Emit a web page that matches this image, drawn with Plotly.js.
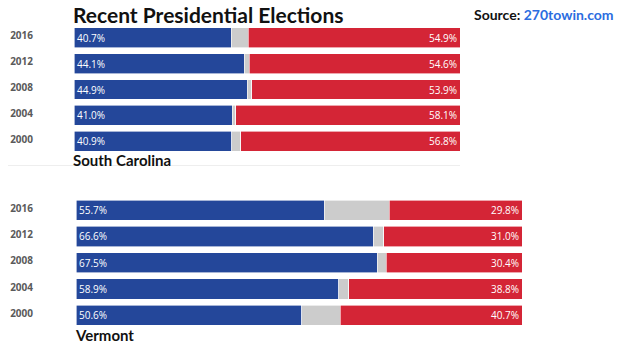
<!DOCTYPE html>
<html>
<head>
<meta charset="utf-8">
<script src="https://cdn.plot.ly/plotly-3.0.1.min.js"></script>
<style>html,body{margin:0;padding:0;background:#fff;}#chart{width:630px;height:350px;}</style>
</head>
<body>
<div id="chart"></div>
<script>
const years = ['2016', '2012', '2008', '2004', '2000'];

const scDem   = [40.7, 44.1, 44.9, 41.0, 40.9];
const scOther = [4.4, 1.3, 1.2, 0.9, 2.3];
const scRep   = [54.9, 54.6, 53.9, 58.1, 56.8];

const vtDem   = [55.7, 66.6, 67.5, 58.9, 50.6];
const vtOther = [14.5, 2.4, 2.1, 2.3, 8.7];
const vtRep   = [29.8, 31.0, 30.4, 38.8, 40.7];

const BLUE = '#24479a', GRAY = '#cccccc', RED = '#d42536';
const pct = a => a.map(v => v.toFixed(1) + '%');
const txtFont = {family: 'Open Sans', size: 10, color: '#ffffff'};

function panel(dem, other, rep, xa, ya) {
  const common = {type: 'bar', orientation: 'h', y: years, xaxis: xa, yaxis: ya,
    hoverinfo: 'skip', showlegend: false, cliponaxis: false,
    marker: {line: {width: 0.6, color: '#ffffff'}}};
  return [
    Object.assign({}, common, {x: dem, marker: {color: BLUE, line: common.marker.line},
      text: pct(dem), textposition: 'inside', insidetextanchor: 'start',
      textfont: txtFont, constraintext: 'none', textangle: 0}),
    Object.assign({}, common, {x: other, marker: {color: GRAY, line: common.marker.line},
      textposition: 'none'}),
    Object.assign({}, common, {x: rep, marker: {color: RED, line: common.marker.line},
      text: pct(rep), textposition: 'inside', insidetextanchor: 'end',
      textfont: txtFont, constraintext: 'none', textangle: 0})
  ];
}

const data = panel(scDem, scOther, scRep, 'x', 'y')
  .concat(panel(vtDem, vtOther, vtRep, 'x2', 'y2'));

const yearFont = {family: 'Open Sans', size: 10, color: '#5a5a5a', weight: 700};
const layout = {
  width: 630, height: 350,
  margin: {l: 0, r: 0, t: 0, b: 0},
  paper_bgcolor: '#ffffff', plot_bgcolor: 'rgba(0,0,0,0)',
  barmode: 'stack', bargap: 0.23,
  xaxis:  {domain: [74/630, 460/630], range: [0, 100], visible: false, fixedrange: true},
  xaxis2: {domain: [76/630, 522/630], range: [0, 100], visible: false, fixedrange: true, anchor: 'y2'},
  yaxis:  {domain: [1 - 154/350, 1 - 25/350], autorange: 'reversed', type: 'category',
           showgrid: false, zeroline: false, showline: false, ticks: '',
           tickfont: yearFont, ticklabelstandoff: 40, ticklabelshift: 2},
  yaxis2: {domain: [1 - 328.5/350, 1 - 197/350], autorange: 'reversed', type: 'category',
           showgrid: false, zeroline: false, showline: false, ticks: '',
           tickfont: yearFont, ticklabelstandoff: 42, ticklabelshift: 2, anchor: 'x2'},
  shapes: [
    {type: 'line', xref: 'paper', yref: 'paper', x0: 8/630, x1: 460/630,
     y0: 1 - 165.5/350, y1: 1 - 165.5/350, line: {color: '#eeeeee', width: 1}}
  ],
  annotations: [
    {text: 'Recent Presidential Elections', xref: 'paper', yref: 'paper',
     x: 71/630, y: 1 - 14/350, xanchor: 'left', yanchor: 'middle', showarrow: false,
     font: {family: 'Lato', size: 21, color: '#111111', weight: 700}},
    {text: 'Source: <span style="color:#2b6de0">270towin.com</span>', xref: 'paper', yref: 'paper',
     x: 472/630, y: 1 - 15/350, xanchor: 'left', yanchor: 'middle', showarrow: false,
     font: {family: 'Lato', size: 14, color: '#111111', weight: 700}},
    {text: 'South Carolina', xref: 'paper', yref: 'paper',
     x: 71/630, y: 1 - 160/350, xanchor: 'left', yanchor: 'middle', showarrow: false,
     font: {family: 'Lato', size: 15, color: '#111111', weight: 700}},
    {text: 'Vermont', xref: 'paper', yref: 'paper',
     x: 73/630, y: 1 - 335/350, xanchor: 'left', yanchor: 'middle', showarrow: false,
     font: {family: 'Lato', size: 15, color: '#111111', weight: 700}}
  ]
};

Plotly.newPlot('chart', data, layout, {staticPlot: true, displayModeBar: false});
</script>
</body>
</html>
